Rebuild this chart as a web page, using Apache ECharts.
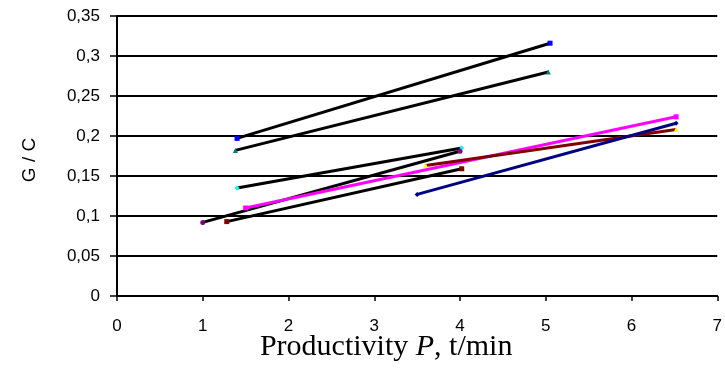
<!DOCTYPE html>
<html>
<head>
<meta charset="utf-8">
<script src="https://cdn.jsdelivr.net/npm/echarts@6/dist/echarts.min.js"></script>
<style>
  html, body { margin: 0; padding: 0; background: #fff; }
  #chart { width: 725px; height: 376px; }
</style>
</head>
<body>
<div id="chart"></div>
<script>
// each series: two end points [P, G/C]
const seriesA = [[1.4, 0.197], [5.05, 0.316]];
const seriesB = [[1.38, 0.182], [5.03, 0.28]];
const seriesC = [[1.4, 0.135], [4.02, 0.185]];
const seriesD = [[1.0, 0.092], [4.0, 0.181]];
const seriesE = [[1.28, 0.093], [4.02, 0.159]];
const seriesF = [[1.5, 0.11], [6.52, 0.224]];
const seriesG = [[3.6, 0.163], [6.52, 0.208]];
const seriesH = [[3.5, 0.127], [6.52, 0.216]];

const yTicks = ['0', '0,05', '0,1', '0,15', '0,2', '0,25', '0,3', '0,35'];

const myChart = echarts.init(document.getElementById('chart'));

function line(data, lineColor, markColor, symbol) {
    return {
        type: 'line',
        data: data,
        symbol: symbol,
        symbolSize: 5,
        lineStyle: { color: lineColor, width: 3 },
        itemStyle: { color: markColor },
        animation: false
    };
}

const option = {
    animation: false,
    grid: { left: 117, right: 5, top: 16, bottom: 80 },
    xAxis: {
        type: 'value',
        min: 0,
        max: 7,
        interval: 1,
        axisLine: { show: true, lineStyle: { color: '#000', width: 2 } },
        axisTick: { show: true, length: 5, lineStyle: { color: '#000', width: 1.5 } },
        splitLine: { show: false },
        axisLabel: { color: '#000', fontFamily: 'Liberation Sans', fontSize: 17, margin: 22 },
        name: 'Productivity {i|P}, t/min',
        nameLocation: 'middle',
        nameGap: 36,
        nameMoveOverlap: false,
        nameTextStyle: {
            color: '#000',
            fontFamily: 'Liberation Serif',
            fontSize: 30,
            padding: [0, 62, 0, 0],
            rich: {
                i: { fontFamily: 'Liberation Serif', fontStyle: 'italic', fontSize: 30, color: '#000' }
            }
        }
    },
    yAxis: {
        type: 'value',
        min: 0,
        max: 0.35,
        interval: 0.05,
        axisLine: { show: true, lineStyle: { color: '#000', width: 2 } },
        axisTick: { show: true, length: 7, lineStyle: { color: '#000', width: 1.5 } },
        splitLine: { show: true, lineStyle: { color: '#000', width: 2 } },
        axisLabel: {
            color: '#000',
            fontFamily: 'Liberation Sans',
            fontSize: 17,
            margin: 17,
            formatter: function (v) { return yTicks[Math.round(v / 0.05)]; }
        },
        name: 'G / C',
        nameLocation: 'middle',
        nameGap: 78,
        nameMoveOverlap: false,
        nameTextStyle: { color: '#000', fontFamily: 'Liberation Sans', fontSize: 19, padding: [0, 8, 0, 0] }
    },
    series: [
        line(seriesA, '#000', '#0000ff', 'rect'),
        line(seriesB, '#000', '#008080', 'triangle'),
        line(seriesC, '#000', '#00ffff', 'diamond'),
        line(seriesD, '#000', '#800080', 'circle'),
        line(seriesE, '#000', '#800000', 'rect'),
        line(seriesF, '#ff00ff', '#ff00ff', 'rect'),
        line(seriesG, '#800000', '#ffff00', 'triangle'),
        line(seriesH, '#000080', '#000080', 'diamond')
    ]
};

myChart.setOption(option);
</script>
</body>
</html>
